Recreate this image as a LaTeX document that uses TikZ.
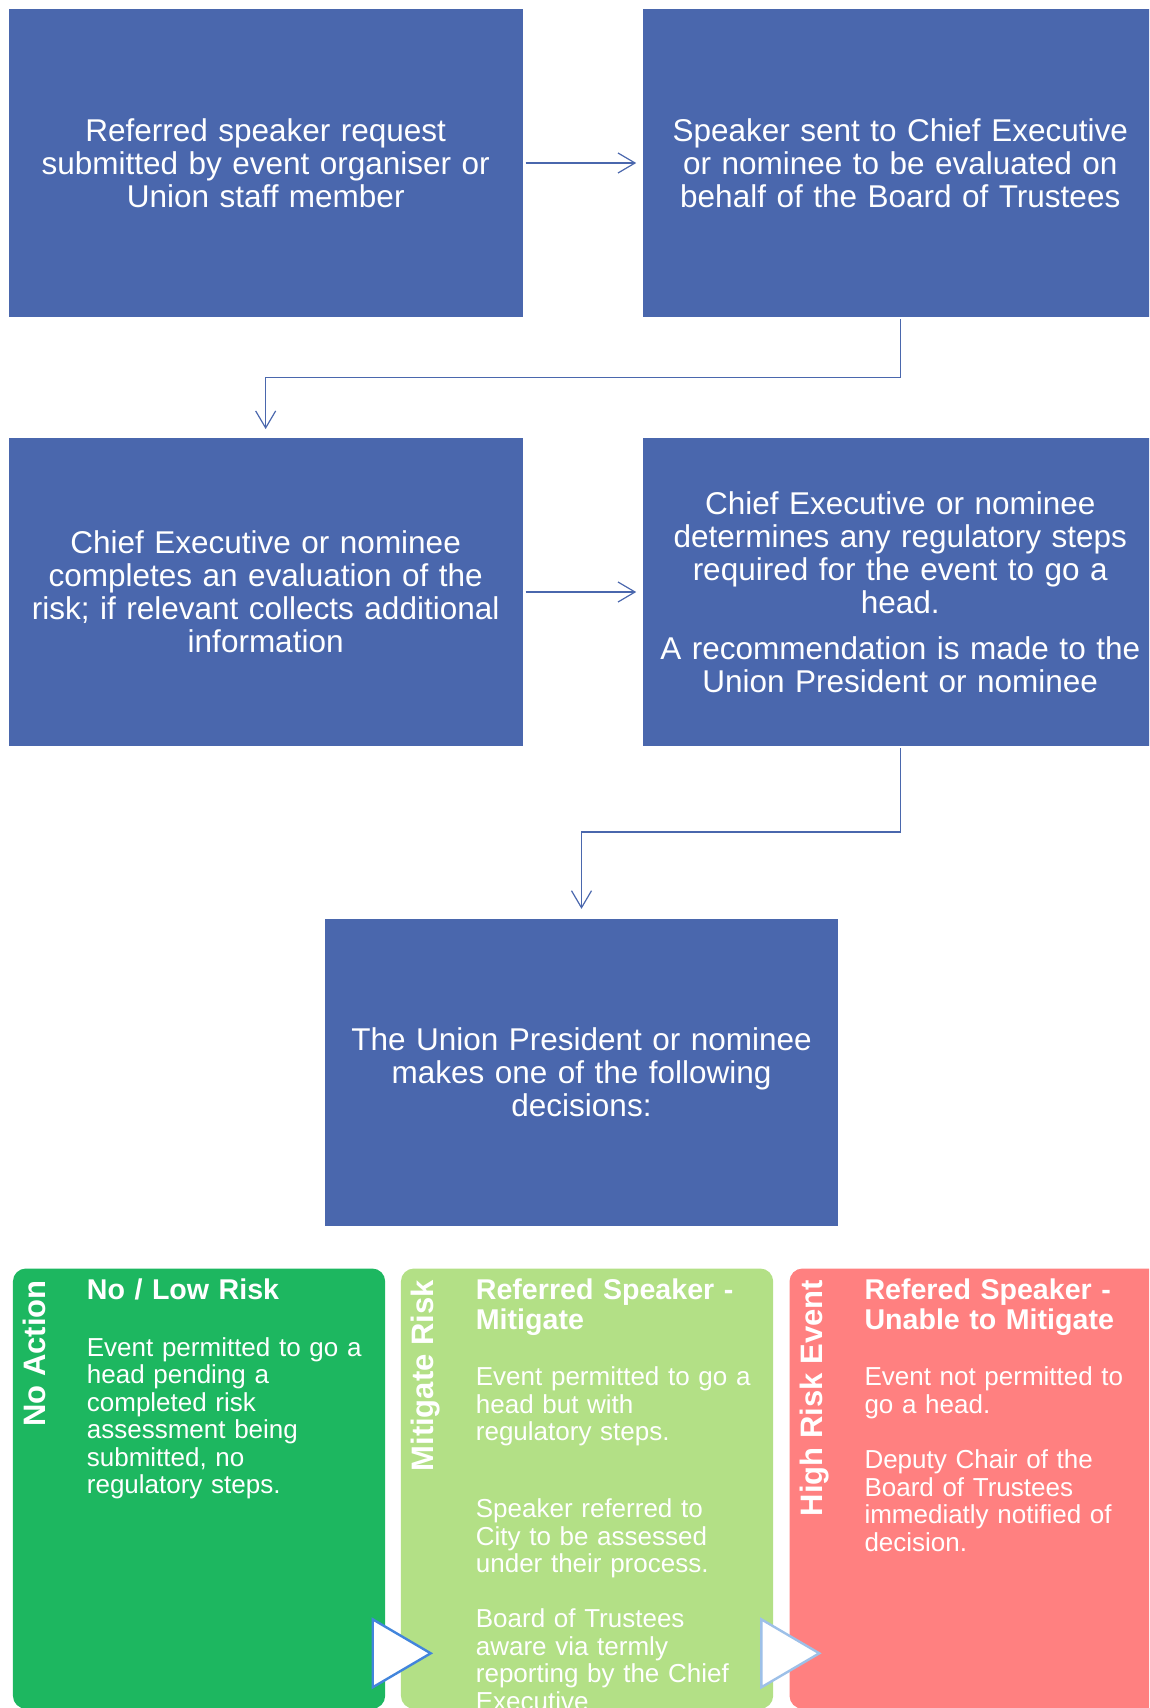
\documentclass[tikz,border=0pt]{standalone}
\usepackage{fontspec}
\setmainfont{Liberation Sans}
\usetikzlibrary{arrows.meta}
\definecolor{boxblue}{HTML}{4A67AD}
\definecolor{pgreen}{HTML}{1DB760}
\definecolor{plight}{HTML}{B3E086}
\definecolor{pred}{HTML}{FF8080}
\definecolor{triA}{HTML}{4285DC}
\definecolor{triB}{HTML}{9DC0E8}
\begin{document}
\begin{tikzpicture}[x=1pt,y=-1pt,
  bluebox/.style={rectangle, fill=boxblue, draw=none, minimum width=513.7pt,
    minimum height=307.4pt, inner sep=0pt, text=white, align=center,
    text width=505pt, font=\fontsize{31.5}{33}\selectfont},
  conn/.style={draw=boxblue, line width=1.2pt,
    -{Straight Barb[length=17pt,width=20pt]}},
  panel/.style={rectangle, rounded corners=13pt, draw=none, anchor=north west,
    minimum width=372.3pt, minimum height=440.2pt, inner sep=0pt},
  sidelabel/.style={rotate=90, anchor=base east, inner sep=0pt, text=white,
    font=\fontsize{31}{32}\selectfont\bfseries},
  ptitle/.style={anchor=base west, inner sep=0pt, text=white, align=left,
    text width=285pt, font=\fontsize{28.6}{30.5}\selectfont\bfseries},
  pbody/.style={anchor=base west, inner sep=0pt, text=white, align=left,
    text width=290pt, font=\fontsize{26}{27.5}\selectfont},
  tri/.style={fill=white, line width=2.4pt, line join=miter}
]
\useasboundingbox (0,0) rectangle (1149,1708);
\clip (0,0) rectangle (1149,1708);

% top flow boxes
\node[bluebox] (b1) at (265.65,163) {Referred speaker request\\submitted by event organiser or\\Union staff member};
\node[bluebox] (b2) at (900.25,163) {Speaker sent to Chief Executive\\or nominee to be evaluated on\\behalf of the Board of Trustees};
\node[bluebox] (b3) at (265.65,592) {Chief Executive or nominee\\completes an evaluation of the\\risk; if relevant collects additional\\information};
\node[bluebox] (b4) at (900.25,592) {Chief Executive or nominee\\determines any regulatory steps\\required for the event to go a\\head.\\[12.5pt]A recommendation is made to the\\Union President or nominee};
\node[bluebox] (b5) at (581.5,1072.3) {The Union President or nominee\\makes one of the following\\decisions:};

% connectors
\draw[conn, shorten <=3pt, shorten >=7pt] (b1.east) -- (b2.west);
\draw[conn, shorten <=2pt, shorten >=9pt] (b2.south) -- (b2.south |- 0,377.3) -| (b3.north);
\draw[conn, shorten <=3pt, shorten >=7pt] (b3.east) -- (b4.west);
\draw[conn, shorten <=2pt, shorten >=9.5pt] (b4.south) -- (b4.south |- 0,832) -| (b5.north);

% decision panels
\node[panel, fill=pgreen] (p1) at (12.7,1268.3) {};
\node[panel, fill=plight] (p2) at (400.7,1268.3) {};
\node[panel, fill=pred] (p3) at (789.3,1268.3) {};

\node[sidelabel] (l1) at (45.7,1280) {No Action};
\node[sidelabel] (l2) at (433.7,1280) {Mitigate Risk};
\node[sidelabel] (l3) at (822.3,1280) {High Risk Event};

\node[ptitle] (t1) at (86.7,1299) {No / Low Risk};
\node[ptitle] (t2) at (475.7,1299) {Referred Speaker -\\Mitigate};
\node[ptitle] (t3) at (864.3,1299) {Refered Speaker -\\Unable to Mitigate};

\node[pbody] (d1) at (86.7,1356) {Event permitted to go a\\head pending a\\completed risk\\assessment being\\submitted, no\\regulatory steps.};
\node[pbody] (d2) at (475.7,1385.7) {Event permitted to go a\\head but with\\regulatory steps.\\[49.5pt]Speaker referred to\\City to be assessed\\under their process.\\[27.5pt]Board of Trustees\\aware via termly\\reporting by the Chief\\Executive};
\node[pbody] (d3) at (864.3,1385.7) {Event not permitted to\\go a head.\\[28pt]Deputy Chair of the\\Board of Trustees\\immediatly notified of\\decision.};

% chevrons between panels
\draw[tri, draw=triA] (372.7,1619.3) -- (430.7,1653.3) -- (372.7,1687.3) -- cycle;
\draw[tri, draw=triB] (761.3,1619.3) -- (819.3,1653.3) -- (761.3,1687.3) -- cycle;
\end{tikzpicture}
\end{document}
